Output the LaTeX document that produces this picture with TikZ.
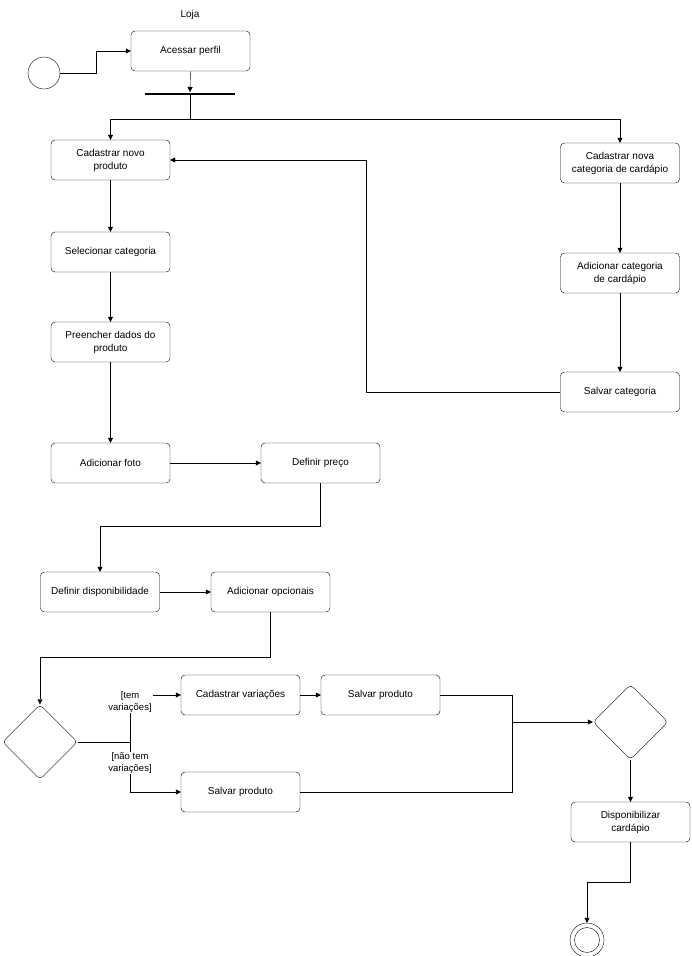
\documentclass[tikz,border=0pt]{standalone}
\usepackage{fontspec}
\setmainfont{Liberation Sans}
\usetikzlibrary{shapes.geometric,arrows.meta}
\tikzset{
  act/.style={draw, rounded corners=4pt, minimum width=119pt, minimum height=40pt, align=center, font=\fontsize{10}{13}\selectfont, inner sep=1pt},
  dec/.style={draw, diamond, rounded corners=4pt, minimum width=75pt, minimum height=75pt, inner sep=0pt},
  flow/.style={-{Triangle[length=5pt,width=5pt]}},
  lbl/.style={align=center, font=\fontsize{9.5}{12}\selectfont, fill=white, inner sep=1pt}
}
\begin{document}
\begin{tikzpicture}[x=1pt,y=-1pt]
  \useasboundingbox (0,0) rectangle (692,956);
  \node[font=\fontsize{10}{13}\selectfont] (title) at (190,15) {Loja};

  % start and profile
  \node[draw, circle, minimum size=32pt, inner sep=0pt] (start) at (44,73) {};
  \node[act] (perfil) at (190.5,51) {Acessar perfil};
  \draw[flow] (start.east) -| (96,51) -- (perfil.west);
  \draw[line width=2pt] (145,94) -- (235,94);
  \coordinate (fork) at (190,94);
  \draw[flow] (perfil.south) -- (190,92);

  % product branch
  \node[act] (novo) at (110.5,160) {Cadastrar novo\\produto};
  \node[act] (selcat) at (110.5,252) {Selecionar categoria};
  \node[act] (dados) at (110.5,342) {Preencher dados do\\produto};
  \node[act] (foto) at (110.5,463) {Adicionar foto};
  \node[act] (preco) at (320.5,463) {Definir preço};
  \node[act] (disp) at (100,592) {Definir disponibilidade};
  \node[act] (opc) at (270.5,592) {Adicionar opcionais};

  % category branch
  \node[act] (novacat) at (620,163) {Cadastrar nova\\categoria de cardápio};
  \node[act] (addcat) at (620,273) {Adicionar categoria\\de cardápio};
  \node[act] (salvcat) at (620,392) {Salvar categoria};

  \draw (fork) -- (190,119);
  \draw[flow] (190,119) -| (novo.north);
  \draw[flow] (190,119) -| (novacat.north);
  \draw[flow] (novo) -- (selcat);
  \draw[flow] (selcat) -- (dados);
  \draw[flow] (dados) -- (foto);
  \draw[flow] (foto) -- (preco);
  \draw[flow] (novacat) -- (addcat);
  \draw[flow] (addcat) -- (salvcat);
  \draw[flow] (salvcat.west) -- (366,392) -- (366,160) -- (novo.east);
  \draw[flow] (preco.south) -- (320.5,526) -| (disp.north);
  \draw[flow] (disp) -- (opc);

  % variations
  \node[dec] (var) at (40,742) {};
  \node[act] (cadvar) at (240.5,695) {Cadastrar variações};
  \node[act] (salv1) at (380.5,695) {Salvar produto};
  \node[act] (salv2) at (240.5,792) {Salvar produto};
  \draw[flow] (opc.south) -- (270.5,657) -| (var.north);
  \draw (var.east) -- (130,742);
  \draw[flow] (130,742) |- (cadvar.west);
  \draw[flow] (130,742) |- (salv2.west);
  \node[lbl] (ltem) at (130,702) {[tem\\variações]};
  \node[lbl] (lnao) at (130,763) {[não tem\\variações]};
  \draw[flow] (cadvar) -- (salv1);

  % merge and publish
  \node[dec] (merge) at (630.5,722) {};
  \coordinate (join) at (512,722);
  \draw (salv1.east) -| (join);
  \draw (salv2.east) -| (join);
  \draw[flow] (join) -- (merge.west);
  \node[act] (cardapio) at (630.5,822) {Disponibilizar\\cardápio};
  \draw[flow] (merge.south) -- (cardapio.north);
  \node[draw, circle, minimum size=34pt, inner sep=0pt] (fim) at (587,940) {};
  \node[draw, circle, minimum size=25pt, inner sep=0pt] (fimin) at (587,940) {};
  \draw[flow] (cardapio.south) -- (630.5,882) -| (fim.north);
\end{tikzpicture}
\end{document}
